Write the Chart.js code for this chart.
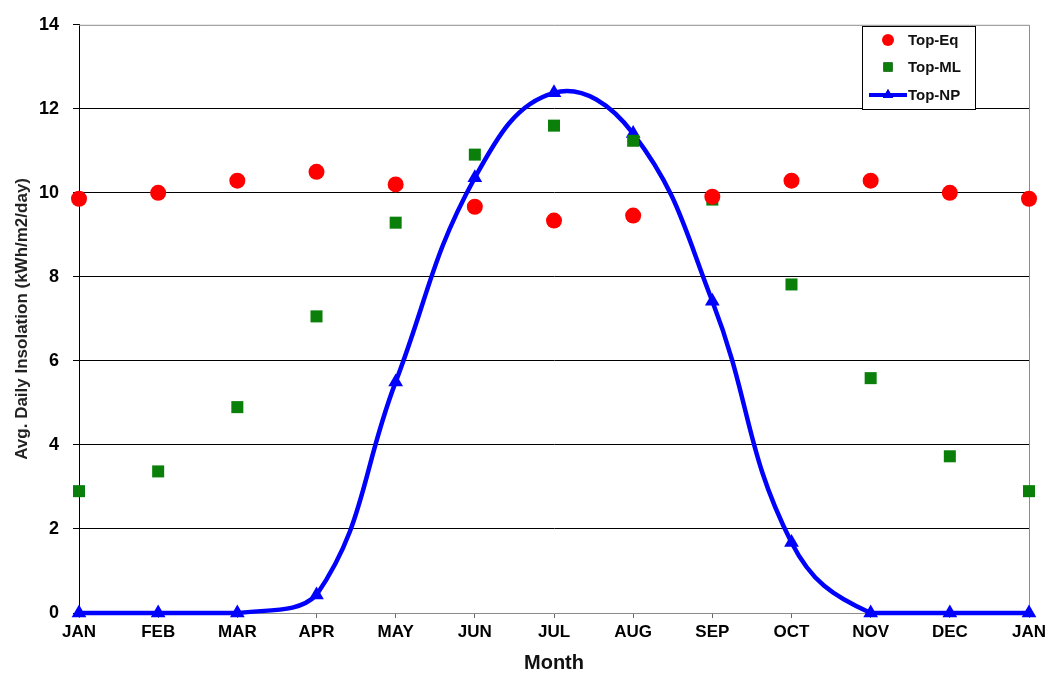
<!DOCTYPE html>
<html>
<head>
<meta charset="utf-8">
<script src="https://cdn.jsdelivr.net/npm/chart.js@4"></script>
<style>
  html, body { margin: 0; padding: 0; background: #fff; }
  #wrap { width: 1053px; height: 678px; position: relative; }
</style>
</head>
<body>
<div id="wrap"><canvas id="insolationChart"></canvas></div>
<script>
// Chart data
const months = ['JAN', 'FEB', 'MAR', 'APR', 'MAY', 'JUN', 'JUL', 'AUG', 'SEP', 'OCT', 'NOV', 'DEC', 'JAN'];
const topEq = [9.86, 10.0, 10.29, 10.5, 10.2, 9.67, 9.34, 9.46, 9.91, 10.29, 10.29, 10.0, 9.86];
const topML = [2.9, 3.37, 4.9, 7.06, 9.29, 10.91, 11.6, 11.24, 9.84, 7.82, 5.59, 3.73, 2.9];
const topNP = [0, 0, 0, 0.43, 5.5, 10.36, 12.38, 11.41, 7.42, 1.68, 0, 0, 0];
const yTicks = [0, 2, 4, 6, 8, 10, 12, 14];

const FONT = '"Liberation Sans", Arial, sans-serif';

// Gray frame on top and right of the plot area
const frame = {
    id: 'frame',
    beforeDatasetsDraw(chart) {
        const a = chart.chartArea;
        const ctx = chart.ctx;
        ctx.save();
        ctx.strokeStyle = '#8c8c8c';
        ctx.lineWidth = 1;
        ctx.beginPath();
        ctx.moveTo(a.left, a.top + 0.5);
        ctx.lineTo(a.right + 0.5, a.top + 0.5);
        ctx.lineTo(a.right + 0.5, a.bottom);
        ctx.stroke();
        ctx.restore();
    }
};

// Boxed legend in the top right corner
const boxLegend = {
    id: 'boxLegend',
    afterDraw(chart) {
        const ctx = chart.ctx;
        const x = 862, y = 26, w = 113, h = 83;
        ctx.save();
        ctx.fillStyle = '#fff';
        ctx.fillRect(x, y, w, h);
        ctx.strokeStyle = '#000';
        ctx.lineWidth = 1;
        ctx.strokeRect(x + 0.5, y + 0.5, w, h);
        ctx.font = 'bold 15px ' + FONT;
        ctx.textBaseline = 'middle';
        const rows = [40, 67, 95];
        chart.data.datasets.forEach((ds, i) => {
            const cy = rows[i];
            const cx = 888;
            if (ds.showLine) {
                ctx.strokeStyle = ds.borderColor;
                ctx.lineWidth = 4;
                ctx.beginPath();
                ctx.moveTo(869, cy);
                ctx.lineTo(907, cy);
                ctx.stroke();
            }
            Chart.helpers.drawPoint(ctx, {
                pointStyle: ds.pointStyle,
                radius: ds.pointStyle === 'rect' ? 6.5 : 6,
                borderWidth: 0
            }, cx, cy);
            ctx.fillStyle = ds.pointBackgroundColor;
            ctx.fill();
            ctx.fillStyle = '#111';
            ctx.fillText(ds.label, 908, cy + 1);
        });
        ctx.restore();
    }
};

new Chart(document.getElementById('insolationChart'), {
    type: 'line',
    data: {
        labels: months,
        datasets: [
            {
                label: 'Top-Eq',
                data: topEq,
                showLine: false,
                pointStyle: 'circle',
                pointRadius: 8,
                pointBackgroundColor: '#ff0000',
                pointBorderColor: '#ff0000',
                pointBorderWidth: 0,
                clip: false
            },
            {
                label: 'Top-ML',
                data: topML,
                showLine: false,
                pointStyle: 'rect',
                pointRadius: 8.5,
                pointBackgroundColor: '#0a800a',
                pointBorderColor: '#0a800a',
                pointBorderWidth: 0,
                clip: false
            },
            {
                label: 'Top-NP',
                data: topNP,
                showLine: true,
                borderColor: '#0000ff',
                borderWidth: 4.5,
                tension: 0.42,
                pointStyle: 'triangle',
                pointRadius: 8.5,
                pointBackgroundColor: '#0000ff',
                pointBorderColor: '#0000ff',
                pointBorderWidth: 0,
                clip: false
            }
        ]
    },
    options: {
        responsive: true,
        maintainAspectRatio: false,
        animation: false,
        layout: { padding: { top: 24, right: 24, left: 0, bottom: 0 } },
        plugins: {
            legend: { display: false },
            tooltip: { enabled: false }
        },
        scales: {
            x: {
                offset: false,
                afterFit: s => { s.height = 65; },
                grid: {
                    drawOnChartArea: false,
                    tickLength: 5,
                    tickColor: '#666'
                },
                border: { color: '#8c8c8c', width: 1 },
                ticks: {
                    color: '#000',
                    padding: 4,
                    maxRotation: 0,
                    autoSkip: false,
                    font: { family: FONT, size: 17, weight: 'bold' }
                },
                title: {
                    display: true,
                    text: 'Month',
                    color: '#111',
                    padding: { top: 0, bottom: 3 },
                    font: { family: FONT, size: 20, weight: 'bold' }
                }
            },
            y: {
                min: 0,
                max: 14,
                afterFit: s => { s.width = 79; },
                afterBuildTicks: s => { s.ticks = yTicks.map(v => ({ value: v })); },
                grid: {
                    color: c => (c.tick.value === 0 || c.tick.value === 14) ? 'rgba(0,0,0,0)' : '#000',
                    tickLength: 6,
                    tickColor: '#000'
                },
                border: { color: '#000', width: 1 },
                ticks: {
                    color: '#000',
                    padding: 14,
                    font: { family: FONT, size: 18, weight: 'bold' }
                },
                title: {
                    display: true,
                    text: 'Avg. Daily Insolation (kWh/m2/day)',
                    color: '#222',
                    padding: { top: 12, bottom: 0 },
                    font: { family: FONT, size: 17, weight: 'bold' }
                }
            }
        }
    },
    plugins: [frame, boxLegend]
});
</script>
</body>
</html>
